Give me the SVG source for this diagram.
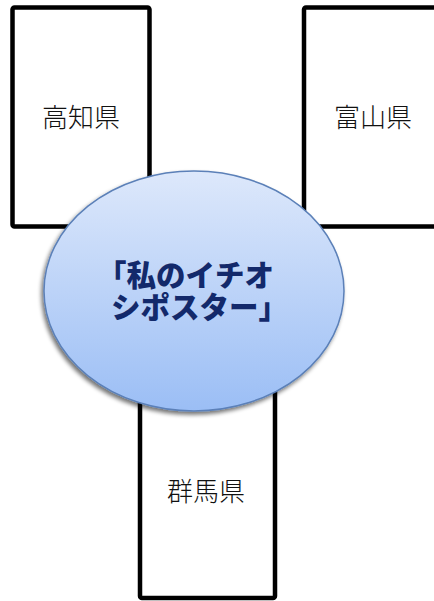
<svg xmlns="http://www.w3.org/2000/svg" width="434" height="601" viewBox="0 0 434 601">
  <style>
    .box { fill: #ffffff; stroke: #000000; stroke-width: 4.5; }
    .label { font-family: "Noto Sans CJK JP", "Noto Sans", sans-serif; font-weight: 300; font-size: 26px; fill: #111111; text-anchor: middle; }
    .title { font-family: "Noto Sans CJK JP", sans-serif; font-weight: 900; font-size: 29.5px; fill: #13296b; }
  </style>
  <defs>
    <linearGradient id="blue" x1="0" y1="0" x2="0" y2="1">
      <stop offset="0" stop-color="#dde8fb"/>
      <stop offset="1" stop-color="#9bbef5"/>
    </linearGradient>
    <filter id="shadow" x="-20%" y="-20%" width="140%" height="140%">
      <feGaussianBlur in="SourceAlpha" stdDeviation="2.2"/>
      <feOffset dx="-2" dy="3" result="b"/>
      <feComponentTransfer><feFuncA type="linear" slope="0.55"/></feComponentTransfer>
      <feMerge><feMergeNode/><feMergeNode in="SourceGraphic"/></feMerge>
    </filter>
  </defs>
  <rect width="434" height="601" fill="#ffffff"/>
  <g id="connectors"></g>
  <g id="node-kochi">
    <rect class="box" x="12.5" y="7.5" width="137" height="219" rx="2"/>
    <text class="label" x="81" y="127">高知県</text>
  </g>
  <g id="node-toyama">
    <rect class="box" x="304" y="7.5" width="140" height="219" rx="2"/>
    <text class="label" x="373" y="127">富山県</text>
  </g>
  <g id="node-gunma">
    <rect class="box" x="140" y="375" width="135" height="223" rx="2"/>
    <text class="label" x="206" y="501">群馬県</text>
  </g>
  <g id="node-center">
    <ellipse cx="194" cy="291" rx="150" ry="120" fill="url(#blue)" stroke="#5b80b8" stroke-width="1.5" filter="url(#shadow)"/>
    <text class="title"><tspan x="97" y="286">「私のイチオ</tspan><tspan x="111" y="318">シポスター」</tspan></text>
  </g>
</svg>
